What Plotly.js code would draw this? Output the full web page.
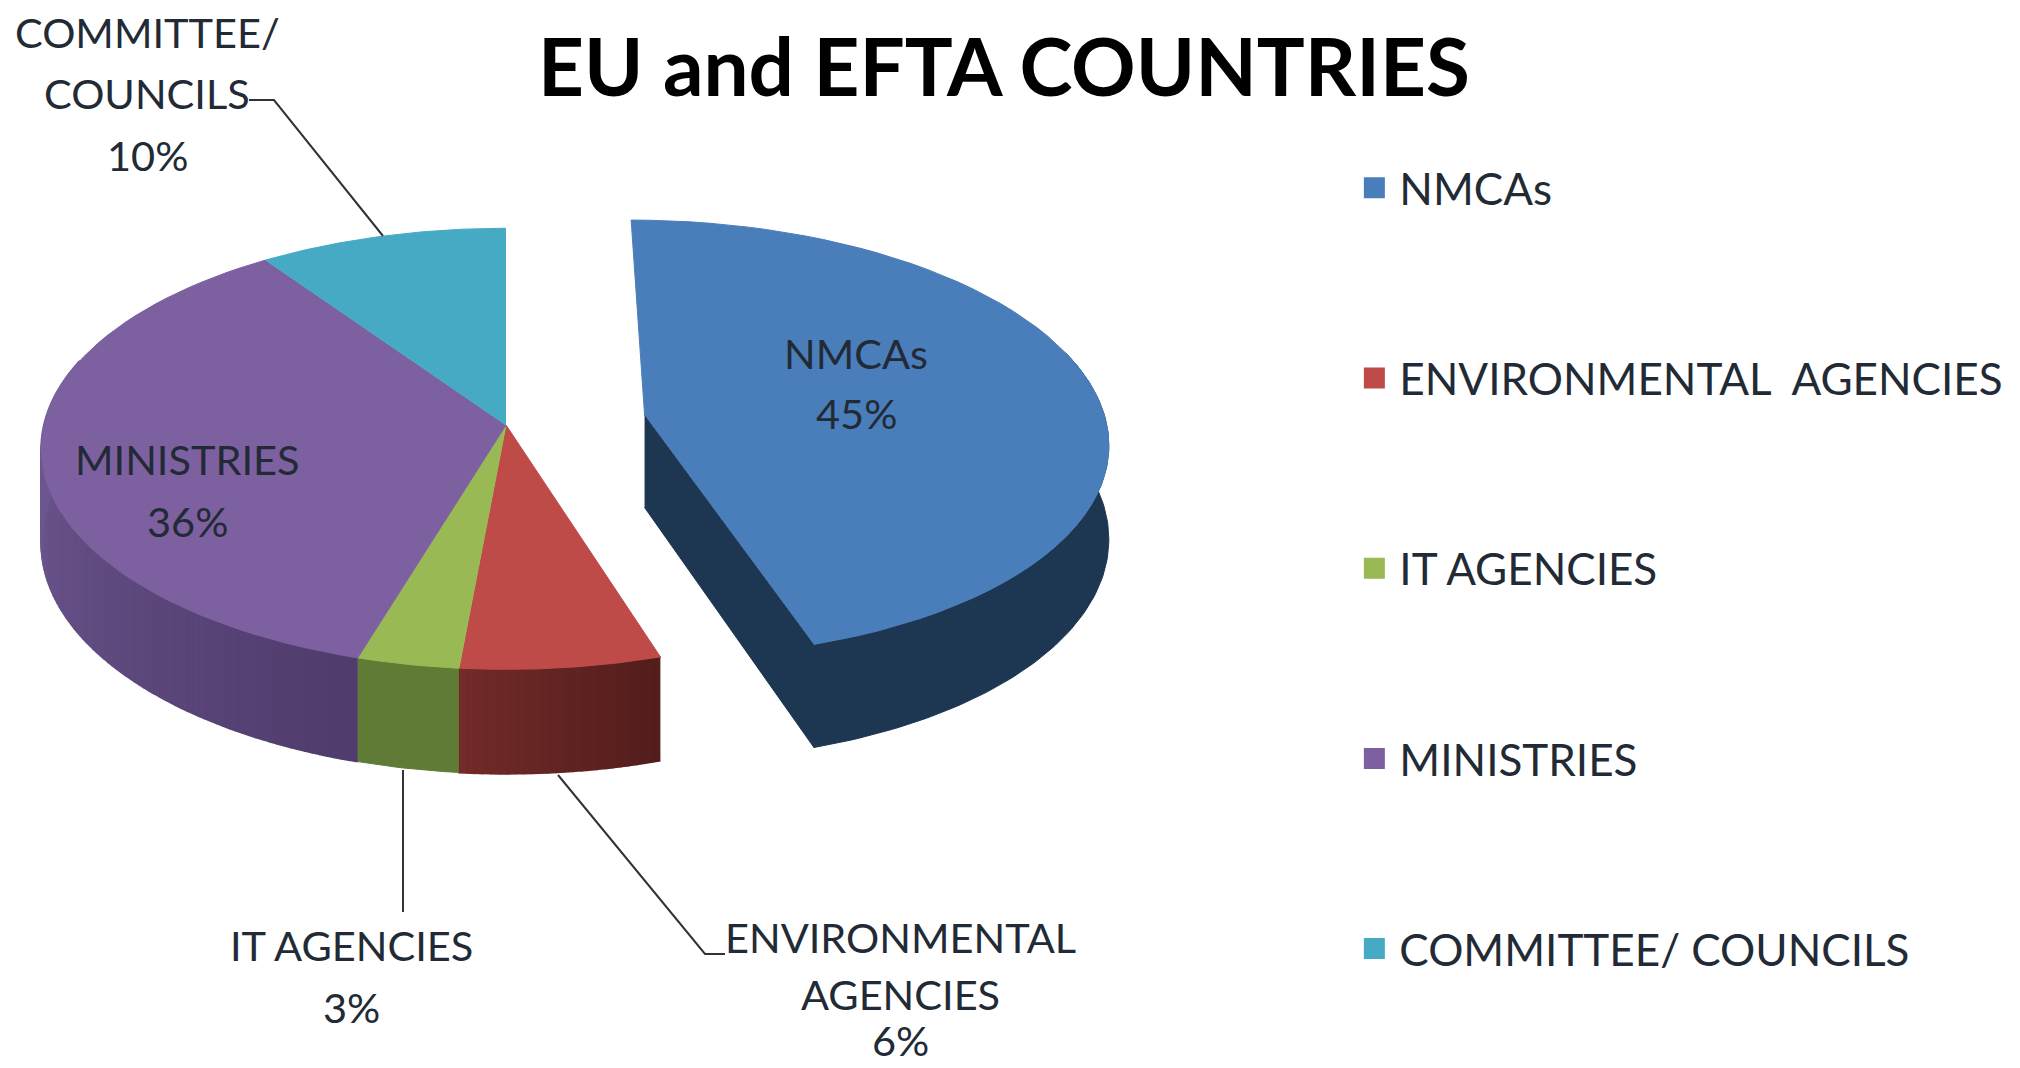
<!DOCTYPE html>
<html>
<head>
<meta charset="utf-8">
<script src="https://cdn.plot.ly/plotly-3.0.1.min.js"></script>
<style>html,body{margin:0;padding:0;background:#fff}</style>
</head>
<body>
<div id="chart" style="width:2020px;height:1068px"></div>
<script>
// ---- data ----
var categories = ['NMCAs', 'ENVIRONMENTAL  AGENCIES', 'IT AGENCIES', 'MINISTRIES', 'COMMITTEE/ COUNCILS'];
var shares = [45.2, 6.3, 3.2, 35.8, 9.6];   // slice sizes, before rounding
var percentLabels = ['45%', '6%', '3%', '36%', '10%'];
var topColors = ['#4a7ebb', '#be4b48', '#98b954', '#7d60a0', '#46aac5'];
var wallFrom = ['#1d3753', '#521d1b', '#5f7b35', '#4f3c6c', '#2c7487'];
var wallTo = ['#1d3753', '#722b29', '#5f7b35', '#6d5790', '#2c7487'];
var wallReach = [1, 1, 1, 0.55, 1];   // share of the wall over which the shade changes
var exploded = [0.305, 0, 0, 0, 0];
var sliceLabelLines = [
  ['NMCAs'], ['ENVIRONMENTAL', 'AGENCIES'], ['IT AGENCIES'], ['MINISTRIES'], ['COMMITTEE/', 'COUNCILS']
];

// ---- projection of the tilted pie into the axes ----
var CX = 506, CY = 425, RX = 462, RY = 218, DEPTH = 93, PERSP = 0.108;
function project(X, Y, z) {
  var s = 1 / (1 + PERSP * Y);
  return [CX + RX * X * s, CY - RY * Y * s + DEPTH * z * s];
}
function hex(c) { return [1, 3, 5].map(function (i) { return parseInt(c.substr(i, 2), 16); }); }
function mix(a, b, t) {
  var A = hex(a), B = hex(b);
  return 'rgb(' + A.map(function (v, i) { return Math.round(v + (B[i] - v) * t); }).join(',') + ')';
}
function poly(pts, color, lw) {
  return {
    type: 'scatter', mode: 'lines', fill: 'toself', fillcolor: color,
    x: pts.map(function (p) { return p[0]; }), y: pts.map(function (p) { return p[1]; }),
    line: { color: color, width: lw === undefined ? 1 : lw }, showlegend: false, hoverinfo: 'skip'
  };
}

var total = shares.reduce(function (a, b) { return a + b; }, 0);
var walls = [], tops = [], cum = 0;
shares.forEach(function (v, i) {
  var t0 = cum / total * 2 * Math.PI, t1 = (cum + v) / total * 2 * Math.PI;
  cum += v;
  var mid = (t0 + t1) / 2, ox = exploded[i] * Math.sin(mid), oy = exploded[i] * Math.cos(mid);
  var rim = function (t, z) { return project(ox + Math.sin(t), oy + Math.cos(t), z); };
  // cut face of an exploded slice
  if (exploded[i] > 0) {
    walls.push(poly([project(ox, oy, 0), rim(t1, 0), rim(t1, 1), project(ox, oy, 1)], wallFrom[i]));
  }
  // outer wall, only where it faces the viewer
  var N = Math.max(4, Math.round(v * 4)), uniform = wallFrom[i] === wallTo[i];
  if (uniform) {
    var up = [], down = [];
    for (var u = 0; u <= N; u++) {
      var tu = t0 + (t1 - t0) * u / N;
      if (Math.cos(tu) < 0.3) { up.push(rim(tu, 0)); down.unshift(rim(tu, 1)); }
    }
    if (up.length > 1) walls.push(poly(up.concat(down), wallFrom[i]));
  } else {
    for (var k = 0; k < N; k++) {
      var a = t0 + (t1 - t0) * k / N, b = t0 + (t1 - t0) * (k + 1) / N;
      if (Math.cos((a + b) / 2) > 0.3) continue;
      walls.push(poly([rim(a, 0), rim(b, 0), rim(b, 1), rim(a, 1)],
        mix(wallFrom[i], wallTo[i], Math.min(1, (k + 0.5) / N / wallReach[i])), 2));
    }
  }
  // top face
  var pts = [project(ox, oy, 0)];
  for (var j = 0; j <= 60; j++) pts.push(rim(t0 + (t1 - t0) * j / 60, 0));
  tops.push(poly(pts, topColors[i]));
});

// legend-only entries
var legendEntries = categories.map(function (c, i) {
  return {
    type: 'scatter', mode: 'markers', x: [null], y: [null], name: c, legendgroup: 'g' + i,
    marker: { symbol: 'square', size: 16, color: topColors[i], line: { color: topColors[i], width: 5 } },
    hoverinfo: 'skip'
  };
});

// ---- text placed beside the slices ----
var F = 'Lato, "Open Sans", sans-serif', INK = '#222a35', SZ = 41.5;
function note(text, x, y) {
  return { text: text, x: x, y: y, xref: 'x', yref: 'y', showarrow: false, xanchor: 'center', yanchor: 'middle',
    font: { family: F, size: SZ, color: INK } };
}
var annotations = [
  note(sliceLabelLines[0][0], 856, 353), note(percentLabels[0], 856, 413),
  note(sliceLabelLines[3][0], 187, 459), note(percentLabels[3], 187, 521),
  note(sliceLabelLines[4][0], 147, 32), note(sliceLabelLines[4][1], 147, 93), note(percentLabels[4], 147, 155),
  note(sliceLabelLines[2][0], 351, 945), note(percentLabels[2], 351, 1007),
  note(sliceLabelLines[1][0], 900, 937), note(sliceLabelLines[1][1], 900, 994), note(percentLabels[1], 900, 1040)
];
function leader(path) {
  return { type: 'path', xref: 'x', yref: 'y', path: path, line: { color: '#333', width: 2 } };
}
var shapes = [
  leader('M 383 236 L 274 100 L 249 100'),
  leader('M 558 775 L 705 954 L 725 954'),
  leader('M 403 770 L 403 912')
];

Plotly.newPlot('chart', walls.concat(tops, legendEntries), {
  width: 2020, height: 1068,
  margin: { l: 0, r: 0, t: 0, b: 0 },
  paper_bgcolor: '#fff', plot_bgcolor: '#fff',
  title: { text: '<b>EU and EFTA COUNTRIES</b>', x: 0.497, xanchor: 'center', y: 0.936, yanchor: 'middle',
    font: { family: F, size: 80, color: '#000' } },
  xaxis: { range: [0, 2020], visible: false, fixedrange: true },
  yaxis: { range: [1068, 0], visible: false, fixedrange: true },
  showlegend: true,
  legend: {
    x: 0.668, xanchor: 'left', y: 0.468, yanchor: 'middle', tracegroupgap: 130, itemwidth: 40,
    bgcolor: 'rgba(0,0,0,0)', font: { family: F, size: 44, color: INK }, itemclick: false, itemdoubleclick: false
  },
  annotations: annotations, shapes: shapes
}, { displayModeBar: false, staticPlot: false });
</script>
</body>
</html>
